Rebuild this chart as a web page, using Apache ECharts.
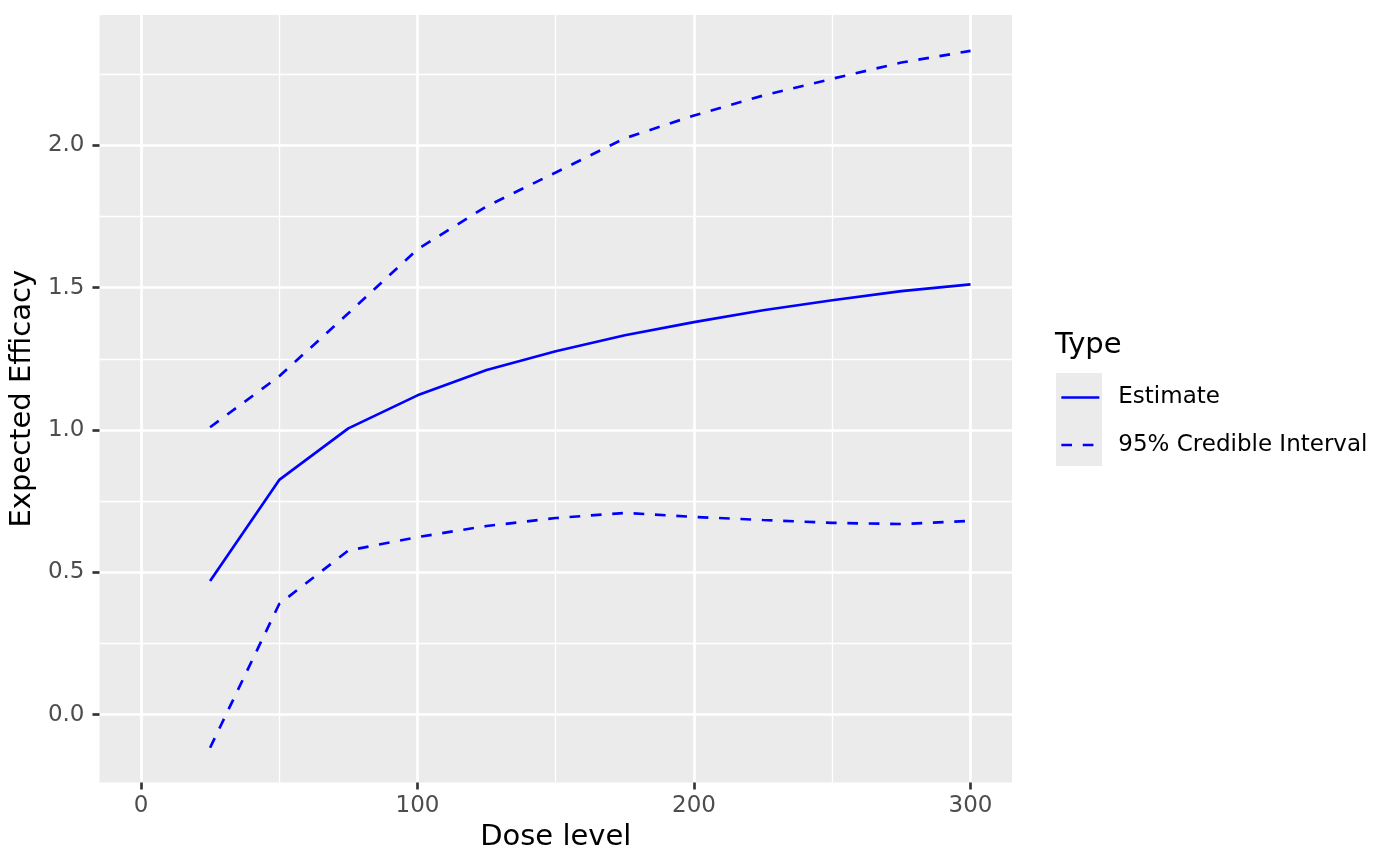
<!DOCTYPE html>
<html>
<head>
<meta charset="utf-8">
<script src="https://cdn.jsdelivr.net/npm/echarts@6/dist/echarts.min.js"></script>
<style>
html,body{margin:0;padding:0;background:#fff;}
#chart{width:1400px;height:866px;}
</style>
</head>
<body>
<div id="chart"></div>
<script>
// ---- data ----
var doses = [25, 50, 75, 100, 125, 150, 175, 200, 225, 250, 275, 300];
var estimate = [0.470, 0.825, 1.006, 1.122, 1.211, 1.277, 1.333, 1.379, 1.421, 1.456, 1.488, 1.512];
var upperCI = [1.010, 1.189, 1.410, 1.635, 1.786, 1.905, 2.025, 2.105, 2.175, 2.234, 2.291, 2.332];
var lowerCI = [-0.116, 0.389, 0.577, 0.624, 0.663, 0.691, 0.709, 0.695, 0.684, 0.674, 0.670, 0.681];
var xTicks = [0, 100, 200, 300];
var xMinorTicks = [50, 150, 250];
var yTicks = [0, 0.5, 1.0, 1.5, 2.0];
var yMinorTicks = [0.25, 0.75, 1.25, 1.75, 2.25];
var seriesNames = ['Estimate', '95% Credible Interval'];

function pairs(xs, ys) { return xs.map(function (x, i) { return [x, ys[i]]; }); }

var FONT = 'DejaVu Sans';
var chart = echarts.init(document.getElementById('chart'), null, {renderer: 'canvas'});
var lineW = 2.67;
var dash = [10.7, 10.7];

var option = {
  animation: false,
  backgroundColor: '#ffffff',
  textStyle: {fontFamily: FONT},
  title: {
    text: 'Type',
    left: 1055, top: 331, padding: 0,
    textStyle: {fontFamily: FONT, fontSize: 29, fontWeight: 'normal', color: '#000000'}
  },
  graphic: [{
    type: 'rect', z: 0,
    shape: {x: 1056, y: 373, width: 46, height: 93},
    style: {fill: '#EBEBEB'}
  }],
  legend: {
    orient: 'vertical',
    left: 1060, top: 386, padding: 0,
    itemWidth: 38, itemHeight: 22, itemGap: 24.5,
    data: seriesNames,
    itemStyle: {opacity: 0, borderWidth: 0},
    lineStyle: {width: lineW},
    textStyle: {fontFamily: FONT, fontSize: 23, color: '#000000', lineHeight: 22, padding: [0, 0, 0, 14]},
    z: 5
  },
  grid: {
    left: 99, right: 388, top: 15, bottom: 83.5,
    show: true, backgroundColor: '#EBEBEB', borderWidth: 0
  },
  xAxis: [{
    type: 'value', min: -15, max: 315, position: 'bottom',
    name: 'Dose level', nameLocation: 'middle', nameGap: 40,
    nameTextStyle: {fontFamily: FONT, fontSize: 29, color: '#000000'},
    axisLine: {show: false, onZero: false},
    axisTick: {show: true, length: 7, customValues: xTicks, lineStyle: {color: '#333333', width: lineW}},
    axisLabel: {customValues: xTicks, fontFamily: FONT, fontSize: 23, color: '#4D4D4D', margin: 12},
    splitLine: {show: true, lineStyle: {color: '#ffffff', width: lineW}}
  }, {
    type: 'value', min: -15, max: 315, position: 'top',
    axisLine: {show: false, onZero: false},
    axisTick: {show: false, customValues: xMinorTicks},
    axisLabel: {show: false, customValues: xMinorTicks},
    splitLine: {show: true, lineStyle: {color: '#ffffff', width: 1.33}}
  }],
  yAxis: [{
    type: 'value', min: -0.238, max: 2.458, position: 'left',
    name: 'Expected Efficacy', nameLocation: 'middle', nameGap: 57, nameRotate: 90,
    nameTextStyle: {fontFamily: FONT, fontSize: 29, color: '#000000'},
    axisLine: {show: false, onZero: false},
    axisTick: {show: true, length: 7, customValues: yTicks, lineStyle: {color: '#333333', width: lineW}},
    axisLabel: {customValues: yTicks, fontFamily: FONT, fontSize: 23, color: '#4D4D4D', margin: 15,
      formatter: function (v) { return v.toFixed(1); }},
    splitLine: {show: true, lineStyle: {color: '#ffffff', width: lineW}}
  }, {
    type: 'value', min: -0.238, max: 2.458, position: 'right',
    axisLine: {show: false, onZero: false},
    axisTick: {show: false, customValues: yMinorTicks},
    axisLabel: {show: false, customValues: yMinorTicks},
    splitLine: {show: true, lineStyle: {color: '#ffffff', width: 1.33}}
  }],
  series: [{
    name: seriesNames[0], type: 'line', xAxisIndex: 0, yAxisIndex: 0,
    data: pairs(doses, estimate), symbol: 'none', showSymbol: false,
    lineStyle: {color: '#0000FF', width: lineW, type: 'solid'},
    itemStyle: {color: '#0000FF'}, z: 3
  }, {
    name: seriesNames[1], type: 'line', xAxisIndex: 0, yAxisIndex: 0,
    data: pairs(doses, upperCI), symbol: 'none', showSymbol: false,
    lineStyle: {color: '#0000FF', width: lineW, type: dash},
    itemStyle: {color: '#0000FF'}, z: 3
  }, {
    name: seriesNames[1], type: 'line', xAxisIndex: 0, yAxisIndex: 0,
    data: pairs(doses, lowerCI), symbol: 'none', showSymbol: false,
    lineStyle: {color: '#0000FF', width: lineW, type: dash},
    itemStyle: {color: '#0000FF'}, z: 3
  }]
};
chart.setOption(option);
</script>
</body>
</html>
